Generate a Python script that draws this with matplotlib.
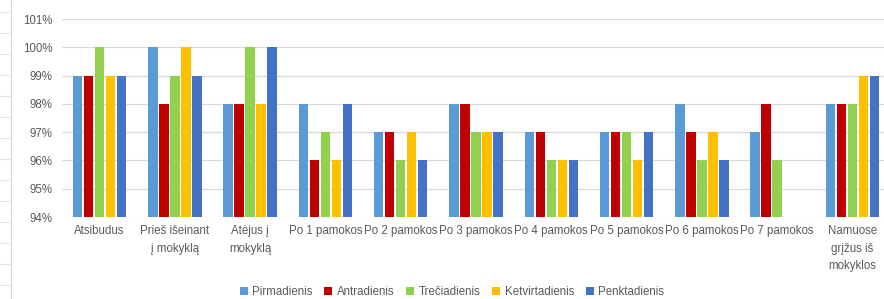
import numpy as np
import matplotlib
matplotlib.use("Agg")
import matplotlib.pyplot as plt
from matplotlib.lines import Line2D
from matplotlib.ticker import FuncFormatter

plt.rcParams['font.family'] = ['Liberation Sans Narrow', 'Liberation Sans', 'DejaVu Sans']

categories = [
    "Atsibudus", "Prieš išeinant\nį mokyklą", "Atėjus į\nmokyklą",
    "Po 1 pamokos", "Po 2 pamokos", "Po 3 pamokos", "Po 4 pamokos",
    "Po 5 pamokos", "Po 6 pamokos", "Po 7 pamokos", "Namuose\ngrįžus iš\nmokyklos",
]
series_names = ["Pirmadienis", "Antradienis", "Trečiadienis", "Ketvirtadienis", "Penktadienis"]
pirmadienis = [99, 100, 98, 98, 97, 98, 97, 97, 98, 97, 98]
antradienis = [99, 98, 98, 96, 97, 98, 97, 97, 97, 98, 98]
treciadienis = [100, 99, 100, 97, 96, 97, 96, 97, 96, 96, 98]
ketvirtadienis = [99, 100, 98, 96, 97, 97, 96, 96, 97, np.nan, 99]
penktadienis = [99, 99, 100, 98, 96, 97, 96, 97, 96, np.nan, 99]
colors = ["#5B9BD5", "#C00000", "#92D050", "#FFC000", "#4472C4"]

series = [pirmadienis, antradienis, treciadienis, ketvirtadienis, penktadienis]

fig = plt.figure(figsize=(8.84, 2.99), dpi=100)
ax = fig.add_axes([62 / 884, 1 - 217 / 299, 828 / 884, 198 / 299])

x = np.arange(len(categories))
step = 0.146
width = 0.125
for i, (name, vals, c) in enumerate(zip(series_names, series, colors)):
    vals = np.array(vals, dtype=float)
    ax.bar(x + (i - 2) * step, vals - 94, bottom=94, width=width, color=c, label=name, zorder=3)

ax.set_xlim(-0.5, len(categories) - 0.5)
ax.set_ylim(94, 101)
ax.set_yticks(range(94, 102))
ax.yaxis.set_major_formatter(FuncFormatter(lambda v, p: f"{int(v)}%"))
ax.grid(axis="y", color="#D9D9D9", linewidth=0.9, zorder=0)
for s in ax.spines.values():
    s.set_visible(False)
ax.tick_params(length=0, colors="#595959", labelsize=8.3)
ax.tick_params(axis="y", pad=7)
ax.tick_params(axis="x", pad=6)
ax.set_xticks(x)
ax.set_xticklabels(categories, linespacing=1.6)

fig.legend(loc="center", bbox_to_anchor=(452 / 884, 1 - 292 / 299), ncol=5, frameon=False,
           fontsize=8.3, handlelength=0.7, handleheight=0.7, handletextpad=0.4,
           columnspacing=1.0, labelcolor="#595959", borderaxespad=0, borderpad=0)

# spreadsheet grid peeking in at the left edge
fig.add_artist(Line2D([11 / 884, 11 / 884], [0, 1], color="#D9D9D9", lw=0.8))
for yy in range(12, 299, 21):
    fig.add_artist(Line2D([0, 11 / 884], [1 - yy / 299, 1 - yy / 299], color="#E3E3E3", lw=0.8))

fig.savefig("out.png", dpi=100)
